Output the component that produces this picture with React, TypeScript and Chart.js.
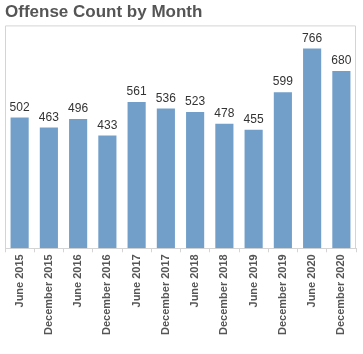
import React, { useEffect, useRef } from "react";
import { Chart, registerables } from "chart.js";

Chart.register(...registerables);

const categories = [
  "June 2015", "December 2015", "June 2016", "December 2016",
  "June 2017", "December 2017", "June 2018", "December 2018",
  "June 2019", "December 2019", "June 2020", "December 2020",
];
const offenseCounts = [502, 463, 496, 433, 561, 536, 523, 478, 455, 599, 766, 680];
const titleText = "Offense Count by Month";

const framePlugin = {
  id: "frame",
  beforeDatasetsDraw(chart: any) {
    const { ctx, chartArea } = chart;
    ctx.save();
    ctx.strokeStyle = "#d4d4d4";
    ctx.lineWidth = 1;
    ctx.beginPath();
    ctx.moveTo(chartArea.left + 0.5, chartArea.bottom);
    ctx.lineTo(chartArea.left + 0.5, chartArea.top + 0.5);
    ctx.lineTo(chartArea.right - 0.5, chartArea.top + 0.5);
    ctx.lineTo(chartArea.right - 0.5, chartArea.bottom);
    ctx.stroke();
    ctx.restore();
  },
};

const labelPlugin = {
  id: "valueLabels",
  afterDatasetsDraw(chart: any) {
    const { ctx } = chart;
    const meta = chart.getDatasetMeta(0);
    const data = chart.data.datasets[0].data;
    ctx.save();
    ctx.font = "12px Arial, 'Liberation Sans', sans-serif";
    ctx.fillStyle = "#333333";
    ctx.textAlign = "center";
    ctx.textBaseline = "bottom";
    meta.data.forEach((bar: any, i: number) => {
      ctx.fillText(String(data[i]), bar.x, bar.y - 4);
    });
    ctx.restore();
  },
};

export default function App() {
  const ref = useRef<HTMLCanvasElement>(null);
  useEffect(() => {
    if (!ref.current) return;
    const chart = new Chart(ref.current, {
      type: "bar",
      data: {
        labels: categories,
        datasets: [
          {
            data: offenseCounts,
            backgroundColor: "#729fca",
            barPercentage: 0.62,
            categoryPercentage: 1,
          },
        ],
      },
      options: {
        animation: false,
        responsive: false,
        maintainAspectRatio: false,
        layout: { padding: { left: 5, right: 7, top: 0, bottom: 17 } },
        plugins: {
          legend: { display: false },
          tooltip: { enabled: false },
          title: {
            display: true,
            text: titleText,
            align: "start",
            color: "#555555",
            font: { family: "Arial, 'Liberation Sans', sans-serif", size: 17, weight: "bold" },
            padding: { top: 2, bottom: 3 },
          },
        },
        scales: {
          y: { display: false, min: 0, max: 855 },
          x: {
            grid: {
              offset: true,
              drawOnChartArea: false,
              tickLength: 4,
              color: "#d4d4d4",
            },
            border: { color: "#d4d4d4" },
            ticks: {
              minRotation: 90,
              maxRotation: 90,
              autoSkip: false,
              padding: 2,
              color: "#555555",
              font: { family: "Arial, 'Liberation Sans', sans-serif", size: 11, weight: "bold" },
            },
          },
        },
      },
      plugins: [framePlugin, labelPlugin],
    });
    return () => chart.destroy();
  }, []);
  return (
    <div style={{ position: "fixed", left: 0, top: 0, width: 363, height: 354, background: "#fff" }}>
      <canvas ref={ref} width={363} height={354} style={{ width: 363, height: 354 }} />
    </div>
  );
}
